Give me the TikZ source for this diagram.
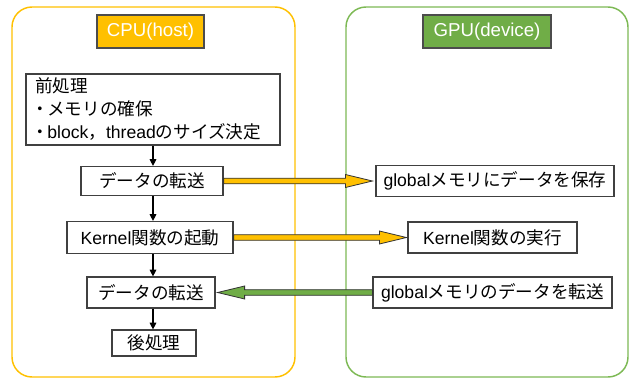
\documentclass[tikz,border=0pt]{standalone}
\usepackage{fontspec}
\setmainfont{Liberation Sans}
\newfontfamily\jp{Noto Sans CJK JP}
\usetikzlibrary{arrows.meta,calc}
\definecolor{cpuorange}{HTML}{FFC000}
\definecolor{gpugreen}{HTML}{70AD47}
\definecolor{gpuframe}{HTML}{7DB954}
\newcommand\blockarr[4]{% #1 start, #2 tip, #3 colour, #4 direction (-1 right, 1 left)
  \filldraw[fill=#3, draw=black!80, line width=0.6pt, line join=miter]
    ($(#1)+(0,-2.8)$) -- ($(#2)+(#4*27,-2.8)$) -- ($(#2)+(#4*27,-6.5)$) -- (#2)
    -- ($(#2)+(#4*27,6.5)$) -- ($(#2)+(#4*27,2.8)$) -- ($(#1)+(0,2.8)$) -- cycle;}
\newcommand\jdot{\leavevmode\hspace*{-0.18em}{\jp ・}\hspace{-0.12em}}
\begin{document}
\begin{tikzpicture}[x=0.75pt,y=-0.75pt,
  font=\fontsize{13.2}{17.25}\selectfont,
  frame/.style={rounded corners=15pt, line width=1.1pt},
  box/.style={draw=black!75, line width=0.9pt, fill=white, inner sep=0pt, align=center},
  lab/.style={draw=black!70, line width=1pt, text=white, inner sep=0pt},
  down/.style={-{Triangle[length=5pt,width=5pt]}, line width=0.8pt}]
\useasboundingbox (0,0) rectangle (632,379);
% frames
\draw[frame, draw=cpuorange] (12,7) rectangle (295,377);
\draw[frame, draw=gpuframe] (346,7) rectangle (628,377);
% labels
\node[lab, fill=cpuorange, minimum width=107*0.75pt, minimum height=33*0.75pt, font=\fontsize{14}{16}\selectfont] (cpu) at (150.5,31.5) {CPU(host)};
\node[lab, fill=gpugreen, minimum width=128*0.75pt, minimum height=33*0.75pt, font=\fontsize{14}{16}\selectfont] (gpu) at (487,31.5) {GPU(device)};
% CPU side
\node[box, align=left, text width=236*0.75pt, minimum height=71*0.75pt, inner xsep=9*0.75pt] (pre) at (153,109.5)
  {{\jp 前処理}\\ \jdot{\jp メモリの確保}\\ \jdot block{\jp ，}thread{\jp のサイズ決定}};
\node[box, minimum width=142*0.75pt, minimum height=29*0.75pt] (b1) at (152,181) {\jp データの転送};
\node[box, minimum width=166*0.75pt, minimum height=32*0.75pt] (b2) at (150,237.5) {Kernel{\jp 関数の起動}};
\node[box, minimum width=128*0.75pt, minimum height=31*0.75pt] (b3) at (151,292.5) {\jp データの転送};
\node[box, minimum width=84*0.75pt, minimum height=26*0.75pt] (b4) at (154,343) {\jp 後処理};
% GPU side
\node[box, minimum width=238*0.75pt, minimum height=31*0.75pt] (r1) at (495,181) {global{\jp メモリにデータを保存}};
\node[box, minimum width=169*0.75pt, minimum height=31*0.75pt] (r2) at (492.5,237.5) {Kernel{\jp 関数の実行}};
\node[box, minimum width=239*0.75pt, minimum height=31*0.75pt] (r3) at (492.5,292.5) {global{\jp メモリのデータを転送}};
% vertical flow
\coordinate (vx) at (153,0);
\draw[down] (pre.south -| vx) -- (b1.north -| vx);
\draw[down] (b1.south -| vx) -- (b2.north -| vx);
\draw[down] (b2.south -| vx) -- (b3.north -| vx);
\draw[down] (b3.south -| vx) -- (b4.north -| vx);
% block arrows
\coordinate (t1) at ($(r1.west)+(-3,0)$);
\coordinate (t2) at ($(r2.west)+(-1,0)$);
\coordinate (t3) at ($(b3.east)+(2,0)$);
\blockarr{b1.east}{t1}{cpuorange}{-1}
\blockarr{b2.east}{t2}{cpuorange}{-1}
\blockarr{r3.west}{t3}{gpugreen}{1}
\end{tikzpicture}
\end{document}
